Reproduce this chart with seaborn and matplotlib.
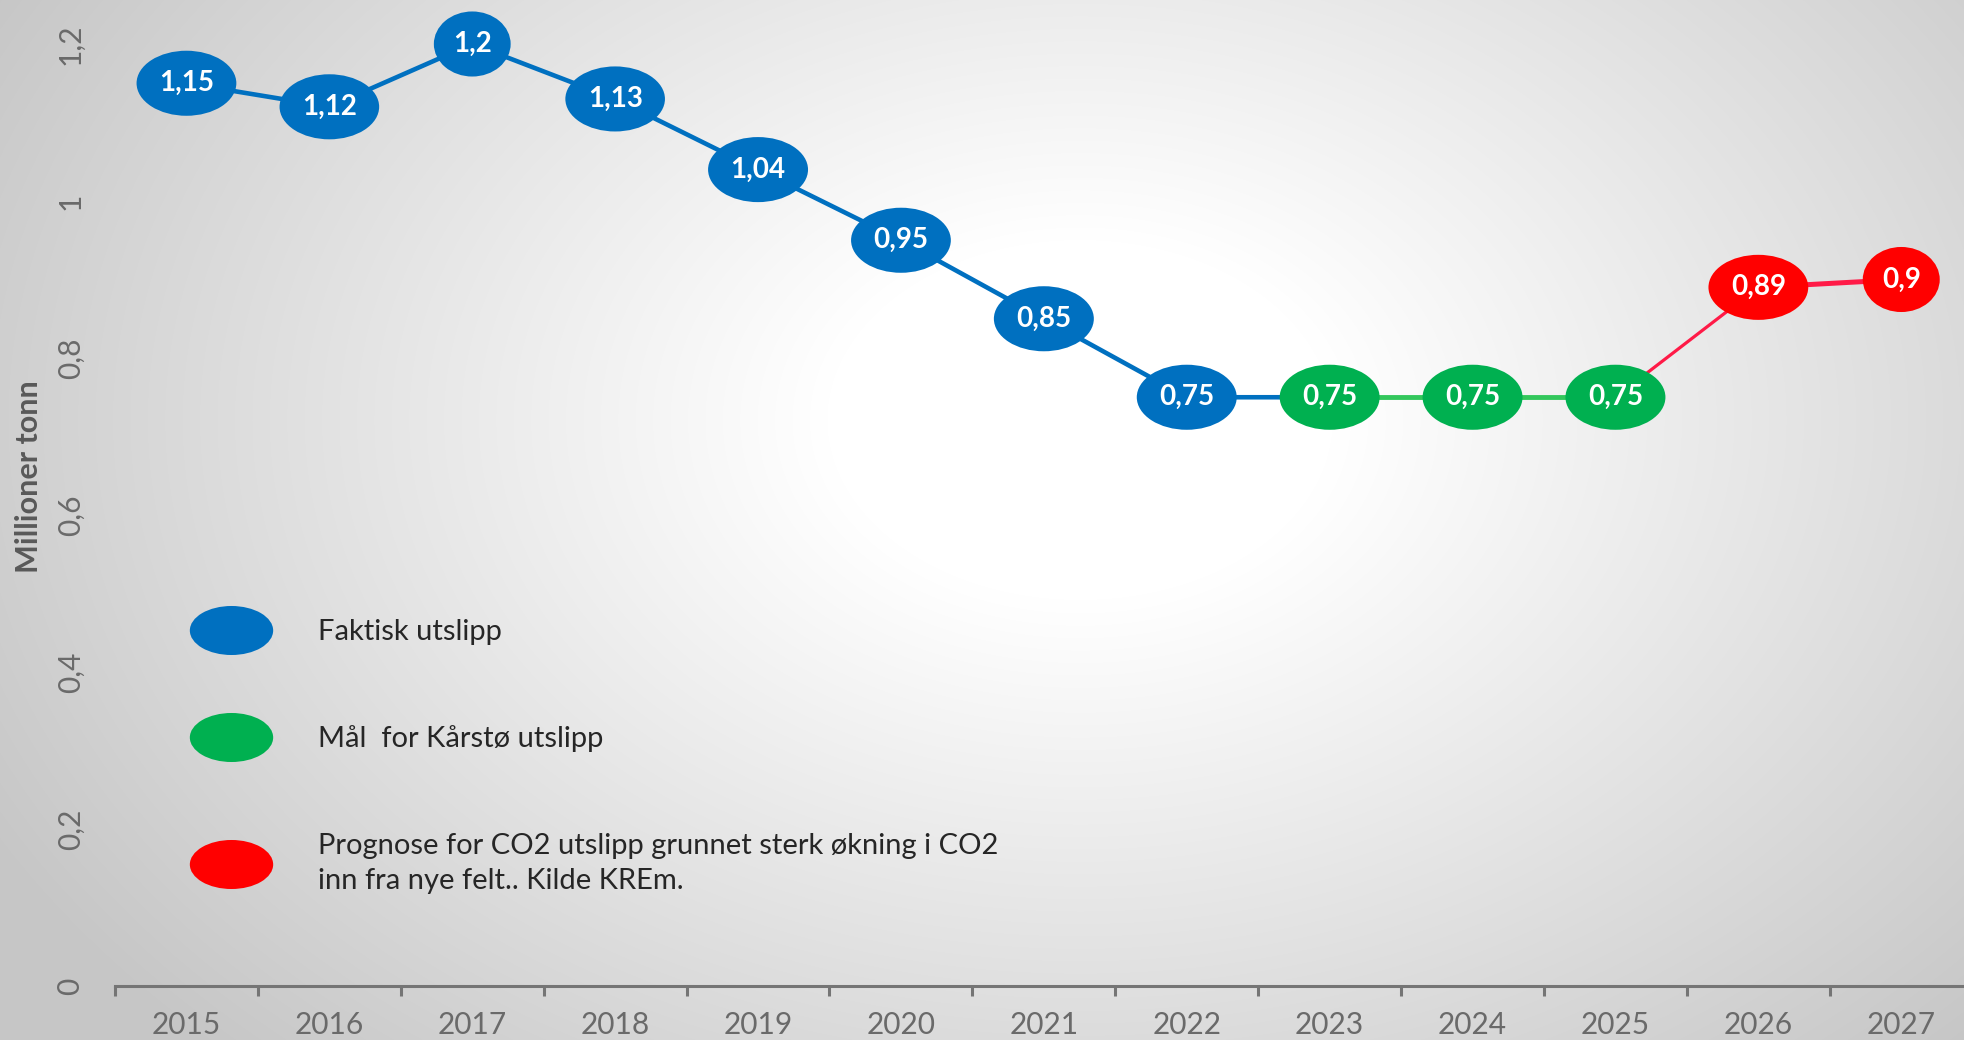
import numpy as np
import pandas as pd
import matplotlib
matplotlib.use("Agg")
import matplotlib.pyplot as plt
import seaborn as sns
from matplotlib.path import Path
from matplotlib.transforms import Affine2D
from matplotlib.lines import Line2D

# ---------------- data ----------------
years = [2015, 2016, 2017, 2018, 2019, 2020, 2021, 2022, 2023, 2024, 2025, 2026, 2027]
values = [1.15, 1.12, 1.20, 1.13, 1.04, 0.95, 0.85, 0.75, 0.75, 0.75, 0.75, 0.89, 0.90]
value_labels = ["1,15", "1,12", "1,2", "1,13", "1,04", "0,95", "0,85",
                "0,75", "0,75", "0,75", "0,75", "0,89", "0,9"]
series = ["Faktisk"] * 8 + ["Mål"] * 3 + ["Prognose"] * 2
y_ticks = [0, 0.2, 0.4, 0.6, 0.8, 1.0, 1.2]
y_tick_labels = ["0", "0,2", "0,4", "0,6", "0,8", "1", "1,2"]
legend_labels = ["Faktisk utslipp",
                 "Mål  for Kårstø utslipp",
                 "Prognose for CO2 utslipp grunnet sterk økning i CO2\ninn fra nye felt.. Kilde KREm."]

BLUE, GREEN, RED = "#0070C0", "#00B050", "#FF0000"
marker_colors = {"Faktisk": BLUE, "Mål": GREEN, "Prognose": RED}
# line segments: (start year, end year, colour, width)
segments = [(2015, 2023, "#0070C0", 3.3),
            (2023, 2025, "#33C75C", 3.5),
            (2025, 2026, "#FF1A47", 2.3),
            (2026, 2027, "#FF1A47", 3.6)]

df = pd.DataFrame({"year": years, "value": values, "label": value_labels, "series": series})


class EllipseBox:
    """Ellipse box style with separate horizontal / vertical padding."""

    def __init__(self, padx=0.28, pady=0.36):
        self.padx, self.pady = padx, pady

    def __call__(self, x0, y0, width, height, mutation_size):
        px, py = self.padx * mutation_size, self.pady * mutation_size
        a = (width / 2 + px) * np.sqrt(2)
        b = (height / 2 + py) * np.sqrt(2)
        cx, cy = x0 + width / 2, y0 + height / 2
        return Path.unit_circle().transformed(Affine2D().scale(a, b).translate(cx, cy))


# ---------------- style ----------------
sns.set_style("white")
plt.rcParams["font.family"] = ["Lato", "DejaVu Sans"]

W, H = 1964, 1040
fig = plt.figure(figsize=(W / 100, H / 100), dpi=100)

# radial gradient background
bg = fig.add_axes([0, 0, 1, 1], zorder=-10)
yy, xx = np.mgrid[0:H, 0:W]
cx, cy, rx, ry = 1080, 420, 1150, 820
r = np.sqrt(((xx - cx) / rx) ** 2 + ((yy - cy) / ry) ** 2)
t = np.clip((r - 0.22) / 0.85, 0, 1)
val = 1 - 0.22 * t
bg.imshow(np.dstack([val, val, val]), extent=[0, 1, 0, 1], aspect="auto", origin="upper")
bg.set_axis_off()

ax = fig.add_axes([115 / W, 54 / H, 1 - 115 / W, 1 - 54 / H])
ax.set_facecolor("none")

for a, b, c, lw in segments:
    part = df[(df["year"] >= a) & (df["year"] <= b)]
    sns.lineplot(data=part, x="year", y="value", color=c, linewidth=lw, ax=ax,
                 legend=False, zorder=2)

for _, row in df.iterrows():
    ax.text(row["year"], row["value"], row["label"], ha="center", va="center",
            fontsize=20, fontweight="bold", color="white", zorder=5,
            bbox=dict(boxstyle=EllipseBox(0.28, 0.36), fc=marker_colors[row["series"]], ec="none"))

ax.set_xlim(2014.5, 2014.5 + (W - 115) / 142.9)
ax.set_ylim(0, 986 / 785)

ax.set_xticks(years)
ax.set_xticklabels([str(y) for y in years])
ax.set_xticks(np.arange(2014.5, 2027.5, 1.0), minor=True)
ax.tick_params(axis="x", which="major", bottom=True, length=0, pad=18, labelsize=21.5,
               labelcolor="#6A6A6A")
ax.tick_params(axis="x", which="minor", bottom=True, length=7, width=2.2, color="#757575",
               direction="out")

ax.set_yticks(y_ticks)
ax.set_yticklabels(y_tick_labels)
ax.tick_params(axis="y", length=0, pad=22, labelsize=21.5, labelcolor="#6A6A6A")
for lab in ax.get_yticklabels():
    lab.set_rotation(90)
    lab.set_va("center")

for s in ["top", "right", "left"]:
    ax.spines[s].set_visible(False)
ax.spines["bottom"].set_color("#757575")
ax.spines["bottom"].set_linewidth(2.2)

ax.set_xlabel("")
ax.set_ylabel("Millioner tonn", fontsize=22, fontweight="bold", color="#595959")
ax.yaxis.set_label_coords(-0.039, 0.517)

# legend with elliptical markers
ell = Path.unit_circle().transformed(Affine2D().scale(1.7, 1.0))
handles = [Line2D([], [], linestyle="none", marker=ell, markersize=60,
                  markerfacecolor=c, markeredgewidth=0)
           for c in [BLUE, GREEN, RED]]
leg = ax.legend(handles, legend_labels, loc="upper left", bbox_to_anchor=(0.0406, 0.372),
                frameon=False, fontsize=21, handlelength=2.8, handletextpad=1.6,
                labelspacing=2.75, borderpad=0, borderaxespad=0)
for txt in leg.get_texts():
    txt.set_color("#262626")
    txt.set_linespacing(1.45)

fig.savefig("out.png", dpi=100)
